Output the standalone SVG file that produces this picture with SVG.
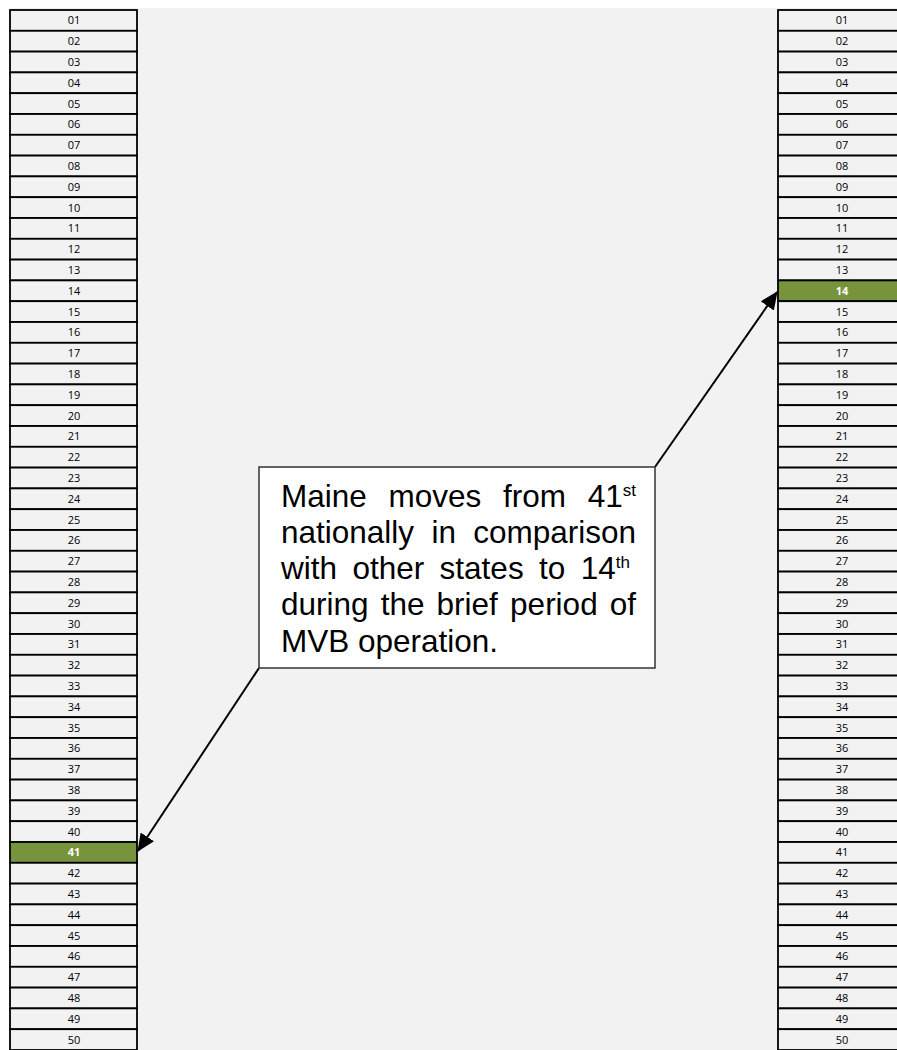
<svg xmlns="http://www.w3.org/2000/svg" width="897" height="1050" viewBox="0 0 897 1050">
<defs>
<style>
.c rect{fill:#f2f2f2;stroke:#000;stroke-width:1.8}
.c text{font-family:"Open Sans","Liberation Sans",sans-serif;font-size:11px;fill:#000;text-anchor:middle}
.c.g rect{fill:#77933c}
.c.g text{fill:#fff;font-weight:bold}
.t{font-family:"Liberation Sans",Arial,sans-serif;font-size:31.5px;fill:#000}
.s{font-size:17px}
</style>
<marker id="ah" markerUnits="userSpaceOnUse" markerWidth="18" markerHeight="16" viewBox="0 0 18 16" refX="17" refY="8" orient="auto">
<path d="M0,0 L18,8 L0,16 Z" fill="#000"/>
</marker>
</defs>
<rect x="0" y="0" width="897" height="1050" fill="#fff"/>
<rect x="10" y="8" width="887" height="1042" fill="#f2f2f2"/>
<g id="left">
<g id="L01" class="c"><rect x="10" y="10" width="127" height="20.8"/><text x="74" y="24.4">01</text></g>
<g id="L02" class="c"><rect x="10" y="30.8" width="127" height="20.8"/><text x="74" y="45.2">02</text></g>
<g id="L03" class="c"><rect x="10" y="51.6" width="127" height="20.8"/><text x="74" y="66">03</text></g>
<g id="L04" class="c"><rect x="10" y="72.4" width="127" height="20.8"/><text x="74" y="86.8">04</text></g>
<g id="L05" class="c"><rect x="10" y="93.2" width="127" height="20.8"/><text x="74" y="107.6">05</text></g>
<g id="L06" class="c"><rect x="10" y="114" width="127" height="20.8"/><text x="74" y="128.4">06</text></g>
<g id="L07" class="c"><rect x="10" y="134.8" width="127" height="20.8"/><text x="74" y="149.2">07</text></g>
<g id="L08" class="c"><rect x="10" y="155.6" width="127" height="20.8"/><text x="74" y="170">08</text></g>
<g id="L09" class="c"><rect x="10" y="176.4" width="127" height="20.8"/><text x="74" y="190.8">09</text></g>
<g id="L10" class="c"><rect x="10" y="197.2" width="127" height="20.8"/><text x="74" y="211.6">10</text></g>
<g id="L11" class="c"><rect x="10" y="218" width="127" height="20.8"/><text x="74" y="232.4">11</text></g>
<g id="L12" class="c"><rect x="10" y="238.8" width="127" height="20.8"/><text x="74" y="253.2">12</text></g>
<g id="L13" class="c"><rect x="10" y="259.6" width="127" height="20.8"/><text x="74" y="274">13</text></g>
<g id="L14" class="c"><rect x="10" y="280.4" width="127" height="20.8"/><text x="74" y="294.8">14</text></g>
<g id="L15" class="c"><rect x="10" y="301.2" width="127" height="20.8"/><text x="74" y="315.6">15</text></g>
<g id="L16" class="c"><rect x="10" y="322" width="127" height="20.8"/><text x="74" y="336.4">16</text></g>
<g id="L17" class="c"><rect x="10" y="342.8" width="127" height="20.8"/><text x="74" y="357.2">17</text></g>
<g id="L18" class="c"><rect x="10" y="363.6" width="127" height="20.8"/><text x="74" y="378">18</text></g>
<g id="L19" class="c"><rect x="10" y="384.4" width="127" height="20.8"/><text x="74" y="398.8">19</text></g>
<g id="L20" class="c"><rect x="10" y="405.2" width="127" height="20.8"/><text x="74" y="419.6">20</text></g>
<g id="L21" class="c"><rect x="10" y="426" width="127" height="20.8"/><text x="74" y="440.4">21</text></g>
<g id="L22" class="c"><rect x="10" y="446.8" width="127" height="20.8"/><text x="74" y="461.2">22</text></g>
<g id="L23" class="c"><rect x="10" y="467.6" width="127" height="20.8"/><text x="74" y="482">23</text></g>
<g id="L24" class="c"><rect x="10" y="488.4" width="127" height="20.8"/><text x="74" y="502.8">24</text></g>
<g id="L25" class="c"><rect x="10" y="509.2" width="127" height="20.8"/><text x="74" y="523.6">25</text></g>
<g id="L26" class="c"><rect x="10" y="530" width="127" height="20.8"/><text x="74" y="544.4">26</text></g>
<g id="L27" class="c"><rect x="10" y="550.8" width="127" height="20.8"/><text x="74" y="565.2">27</text></g>
<g id="L28" class="c"><rect x="10" y="571.6" width="127" height="20.8"/><text x="74" y="586">28</text></g>
<g id="L29" class="c"><rect x="10" y="592.4" width="127" height="20.8"/><text x="74" y="606.8">29</text></g>
<g id="L30" class="c"><rect x="10" y="613.2" width="127" height="20.8"/><text x="74" y="627.6">30</text></g>
<g id="L31" class="c"><rect x="10" y="634" width="127" height="20.8"/><text x="74" y="648.4">31</text></g>
<g id="L32" class="c"><rect x="10" y="654.8" width="127" height="20.8"/><text x="74" y="669.2">32</text></g>
<g id="L33" class="c"><rect x="10" y="675.6" width="127" height="20.8"/><text x="74" y="690">33</text></g>
<g id="L34" class="c"><rect x="10" y="696.4" width="127" height="20.8"/><text x="74" y="710.8">34</text></g>
<g id="L35" class="c"><rect x="10" y="717.2" width="127" height="20.8"/><text x="74" y="731.6">35</text></g>
<g id="L36" class="c"><rect x="10" y="738" width="127" height="20.8"/><text x="74" y="752.4">36</text></g>
<g id="L37" class="c"><rect x="10" y="758.8" width="127" height="20.8"/><text x="74" y="773.2">37</text></g>
<g id="L38" class="c"><rect x="10" y="779.6" width="127" height="20.8"/><text x="74" y="794">38</text></g>
<g id="L39" class="c"><rect x="10" y="800.4" width="127" height="20.8"/><text x="74" y="814.8">39</text></g>
<g id="L40" class="c"><rect x="10" y="821.2" width="127" height="20.8"/><text x="74" y="835.6">40</text></g>
<g id="L41" class="c g"><rect x="10" y="842" width="127" height="20.8"/><text x="74" y="856.4">41</text></g>
<g id="L42" class="c"><rect x="10" y="862.8" width="127" height="20.8"/><text x="74" y="877.2">42</text></g>
<g id="L43" class="c"><rect x="10" y="883.6" width="127" height="20.8"/><text x="74" y="898">43</text></g>
<g id="L44" class="c"><rect x="10" y="904.4" width="127" height="20.8"/><text x="74" y="918.8">44</text></g>
<g id="L45" class="c"><rect x="10" y="925.2" width="127" height="20.8"/><text x="74" y="939.6">45</text></g>
<g id="L46" class="c"><rect x="10" y="946" width="127" height="20.8"/><text x="74" y="960.4">46</text></g>
<g id="L47" class="c"><rect x="10" y="966.8" width="127" height="20.8"/><text x="74" y="981.2">47</text></g>
<g id="L48" class="c"><rect x="10" y="987.6" width="127" height="20.8"/><text x="74" y="1002">48</text></g>
<g id="L49" class="c"><rect x="10" y="1008.4" width="127" height="20.8"/><text x="74" y="1022.8">49</text></g>
<g id="L50" class="c"><rect x="10" y="1029.2" width="127" height="20.8"/><text x="74" y="1043.6">50</text></g>
</g>
<g id="right">
<g id="R01" class="c"><rect x="778" y="10" width="130" height="20.8"/><text x="842" y="24.4">01</text></g>
<g id="R02" class="c"><rect x="778" y="30.8" width="130" height="20.8"/><text x="842" y="45.2">02</text></g>
<g id="R03" class="c"><rect x="778" y="51.6" width="130" height="20.8"/><text x="842" y="66">03</text></g>
<g id="R04" class="c"><rect x="778" y="72.4" width="130" height="20.8"/><text x="842" y="86.8">04</text></g>
<g id="R05" class="c"><rect x="778" y="93.2" width="130" height="20.8"/><text x="842" y="107.6">05</text></g>
<g id="R06" class="c"><rect x="778" y="114" width="130" height="20.8"/><text x="842" y="128.4">06</text></g>
<g id="R07" class="c"><rect x="778" y="134.8" width="130" height="20.8"/><text x="842" y="149.2">07</text></g>
<g id="R08" class="c"><rect x="778" y="155.6" width="130" height="20.8"/><text x="842" y="170">08</text></g>
<g id="R09" class="c"><rect x="778" y="176.4" width="130" height="20.8"/><text x="842" y="190.8">09</text></g>
<g id="R10" class="c"><rect x="778" y="197.2" width="130" height="20.8"/><text x="842" y="211.6">10</text></g>
<g id="R11" class="c"><rect x="778" y="218" width="130" height="20.8"/><text x="842" y="232.4">11</text></g>
<g id="R12" class="c"><rect x="778" y="238.8" width="130" height="20.8"/><text x="842" y="253.2">12</text></g>
<g id="R13" class="c"><rect x="778" y="259.6" width="130" height="20.8"/><text x="842" y="274">13</text></g>
<g id="R14" class="c g"><rect x="778" y="280.4" width="130" height="20.8"/><text x="842" y="294.8">14</text></g>
<g id="R15" class="c"><rect x="778" y="301.2" width="130" height="20.8"/><text x="842" y="315.6">15</text></g>
<g id="R16" class="c"><rect x="778" y="322" width="130" height="20.8"/><text x="842" y="336.4">16</text></g>
<g id="R17" class="c"><rect x="778" y="342.8" width="130" height="20.8"/><text x="842" y="357.2">17</text></g>
<g id="R18" class="c"><rect x="778" y="363.6" width="130" height="20.8"/><text x="842" y="378">18</text></g>
<g id="R19" class="c"><rect x="778" y="384.4" width="130" height="20.8"/><text x="842" y="398.8">19</text></g>
<g id="R20" class="c"><rect x="778" y="405.2" width="130" height="20.8"/><text x="842" y="419.6">20</text></g>
<g id="R21" class="c"><rect x="778" y="426" width="130" height="20.8"/><text x="842" y="440.4">21</text></g>
<g id="R22" class="c"><rect x="778" y="446.8" width="130" height="20.8"/><text x="842" y="461.2">22</text></g>
<g id="R23" class="c"><rect x="778" y="467.6" width="130" height="20.8"/><text x="842" y="482">23</text></g>
<g id="R24" class="c"><rect x="778" y="488.4" width="130" height="20.8"/><text x="842" y="502.8">24</text></g>
<g id="R25" class="c"><rect x="778" y="509.2" width="130" height="20.8"/><text x="842" y="523.6">25</text></g>
<g id="R26" class="c"><rect x="778" y="530" width="130" height="20.8"/><text x="842" y="544.4">26</text></g>
<g id="R27" class="c"><rect x="778" y="550.8" width="130" height="20.8"/><text x="842" y="565.2">27</text></g>
<g id="R28" class="c"><rect x="778" y="571.6" width="130" height="20.8"/><text x="842" y="586">28</text></g>
<g id="R29" class="c"><rect x="778" y="592.4" width="130" height="20.8"/><text x="842" y="606.8">29</text></g>
<g id="R30" class="c"><rect x="778" y="613.2" width="130" height="20.8"/><text x="842" y="627.6">30</text></g>
<g id="R31" class="c"><rect x="778" y="634" width="130" height="20.8"/><text x="842" y="648.4">31</text></g>
<g id="R32" class="c"><rect x="778" y="654.8" width="130" height="20.8"/><text x="842" y="669.2">32</text></g>
<g id="R33" class="c"><rect x="778" y="675.6" width="130" height="20.8"/><text x="842" y="690">33</text></g>
<g id="R34" class="c"><rect x="778" y="696.4" width="130" height="20.8"/><text x="842" y="710.8">34</text></g>
<g id="R35" class="c"><rect x="778" y="717.2" width="130" height="20.8"/><text x="842" y="731.6">35</text></g>
<g id="R36" class="c"><rect x="778" y="738" width="130" height="20.8"/><text x="842" y="752.4">36</text></g>
<g id="R37" class="c"><rect x="778" y="758.8" width="130" height="20.8"/><text x="842" y="773.2">37</text></g>
<g id="R38" class="c"><rect x="778" y="779.6" width="130" height="20.8"/><text x="842" y="794">38</text></g>
<g id="R39" class="c"><rect x="778" y="800.4" width="130" height="20.8"/><text x="842" y="814.8">39</text></g>
<g id="R40" class="c"><rect x="778" y="821.2" width="130" height="20.8"/><text x="842" y="835.6">40</text></g>
<g id="R41" class="c"><rect x="778" y="842" width="130" height="20.8"/><text x="842" y="856.4">41</text></g>
<g id="R42" class="c"><rect x="778" y="862.8" width="130" height="20.8"/><text x="842" y="877.2">42</text></g>
<g id="R43" class="c"><rect x="778" y="883.6" width="130" height="20.8"/><text x="842" y="898">43</text></g>
<g id="R44" class="c"><rect x="778" y="904.4" width="130" height="20.8"/><text x="842" y="918.8">44</text></g>
<g id="R45" class="c"><rect x="778" y="925.2" width="130" height="20.8"/><text x="842" y="939.6">45</text></g>
<g id="R46" class="c"><rect x="778" y="946" width="130" height="20.8"/><text x="842" y="960.4">46</text></g>
<g id="R47" class="c"><rect x="778" y="966.8" width="130" height="20.8"/><text x="842" y="981.2">47</text></g>
<g id="R48" class="c"><rect x="778" y="987.6" width="130" height="20.8"/><text x="842" y="1002">48</text></g>
<g id="R49" class="c"><rect x="778" y="1008.4" width="130" height="20.8"/><text x="842" y="1022.8">49</text></g>
<g id="R50" class="c"><rect x="778" y="1029.2" width="130" height="20.8"/><text x="842" y="1043.6">50</text></g>
</g>
<g id="connectors" stroke="#000" stroke-width="2" fill="none">
<line x1="259" y1="668" x2="138" y2="851" marker-end="url(#ah)"/>
<line x1="655" y1="467" x2="777" y2="292" marker-end="url(#ah)"/>
</g>
<g id="callout">
<rect x="259" y="467" width="396" height="201" fill="#fff" stroke="#333" stroke-width="1.5"/>
<text class="t" y="507"><tspan x="281">Maine</tspan><tspan x="388.5">moves</tspan><tspan x="503">from</tspan><tspan x="587.7">41</tspan><tspan class="s" x="622.7" dy="-11">st</tspan></text>
<text class="t" y="543"><tspan x="281">nationally</tspan><tspan x="431.4">in</tspan><tspan x="473.2">comparison</tspan></text>
<text class="t" y="579"><tspan x="281">with</tspan><tspan x="352.4">other</tspan><tspan x="439.6">states</tspan><tspan x="539">to</tspan><tspan x="580.7">14</tspan><tspan class="s" x="615.7" dy="-11">th</tspan></text>
<text class="t" y="615"><tspan x="281">during</tspan><tspan x="380.7">the</tspan><tspan x="436.6">brief</tspan><tspan x="510.1">period</tspan><tspan x="609.7">of</tspan></text>
<text class="t" y="652"><tspan x="281">MVB operation.</tspan></text>
</g>
</svg>
